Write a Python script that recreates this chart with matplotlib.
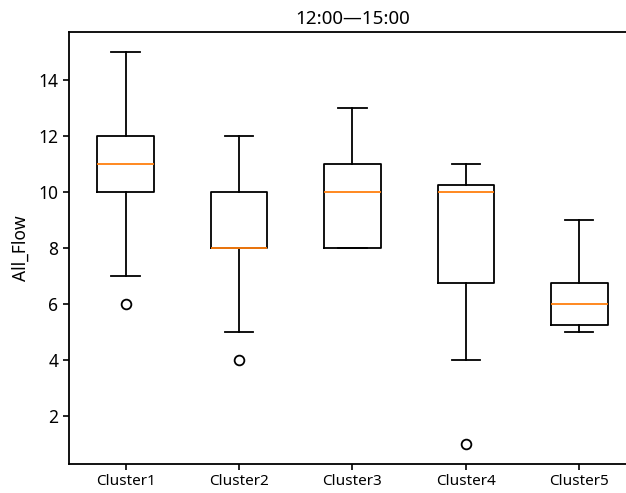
import matplotlib
matplotlib.use('Agg')
import matplotlib.pyplot as plt

labels = ['Cluster1', 'Cluster2', 'Cluster3', 'Cluster4', 'Cluster5']
whislo = [7, 5, 8, 4, 5]
q1 = [10, 8, 8, 6.75, 5.25]
med = [11, 8, 10, 10, 6]
q3 = [12, 10, 11, 10.25, 6.75]
whishi = [15, 12, 13, 11, 9]
fliers = [[6], [4], [], [1], []]

stats = [dict(label=l, whislo=a, q1=b, med=c, q3=d, whishi=e, fliers=f)
         for l, a, b, c, d, e, f in zip(labels, whislo, q1, med, q3, whishi, fliers)]

plt.rcParams['font.family'] = ['Noto Sans', 'DejaVu Sans']

fig = plt.figure(figsize=(6.26, 4.93), dpi=100)
# right spine sits just outside the picture in the reference
ax = fig.add_axes([0.110, 0.0588, 0.906, 0.876])
lw = 1.3
ax.bxp(stats,
       boxprops=dict(linewidth=lw),
       whiskerprops=dict(linewidth=lw),
       capprops=dict(linewidth=lw),
       medianprops=dict(linewidth=lw, color='#ff7f0e'),
       flierprops=dict(marker='o', markersize=7, markeredgewidth=1.3,
                       markerfacecolor='none', markeredgecolor='k'))
ax.set_ylim(0.3, 15.7)
ax.set_yticks([2, 4, 6, 8, 10, 12, 14])
ax.set_ylabel('All_Flow', fontsize=12.5, labelpad=6)
ax.set_title('12:00\u201415:00', fontsize=13.5)
for s in ax.spines.values():
    s.set_linewidth(1.3)
ax.tick_params(width=1.2, length=4)
ax.tick_params(axis='y', labelsize=12.5)
ax.tick_params(axis='x', labelsize=11)

fig.savefig('out.png', dpi=100)
